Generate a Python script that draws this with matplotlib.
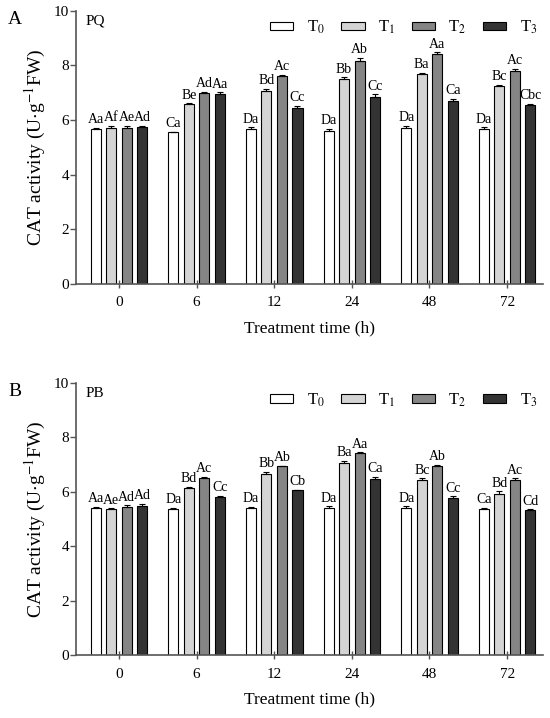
import matplotlib
matplotlib.use("Agg")
import matplotlib.pyplot as plt
import numpy as np

# ---------------------------------------------------------------
# data
times = ['0', '6', '12', '24', '48', '72']
series = ['T$_0$', 'T$_1$', 'T$_2$', 'T$_3$']

pq_mean = [[5.68, 5.55, 5.68, 5.61, 5.70, 5.68],
           [5.70, 6.57, 7.07, 7.52, 7.68, 7.26],
           [5.71, 7.00, 7.62, 8.17, 8.43, 7.80],
           [5.76, 6.96, 6.45, 6.86, 6.71, 6.56]]
pq_err = [[0.03, 0.03, 0.05, 0.07, 0.08, 0.06],
          [0.08, 0.04, 0.07, 0.05, 0.04, 0.04],
          [0.07, 0.04, 0.03, 0.10, 0.05, 0.08],
          [0.04, 0.06, 0.07, 0.08, 0.07, 0.04]]
pq_labels = [['Aa', 'Ca', 'Da', 'Da', 'Da', 'Da'],
             ['Af', 'Be', 'Bd', 'Bb', 'Ba', 'Bc'],
             ['Ae', 'Ad', 'Ac', 'Ab', 'Aa', 'Ac'],
             ['Ad', 'Aa', 'Cc', 'Cc', 'Ca', 'Cbc']]

pb_mean = [[5.41, 5.37, 5.39, 5.41, 5.39, 5.35],
           [5.36, 6.13, 6.65, 7.05, 6.42, 5.93],
           [5.45, 6.52, 6.93, 7.42, 6.93, 6.43],
           [5.48, 5.80, 6.05, 6.46, 5.78, 5.33]]
pb_err = [[0.03, 0.05, 0.05, 0.05, 0.08, 0.05],
          [0.03, 0.05, 0.08, 0.08, 0.07, 0.09],
          [0.05, 0.03, 0.03, 0.03, 0.05, 0.06],
          [0.07, 0.06, 0.03, 0.09, 0.05, 0.03]]
pb_labels = [['Aa', 'Da', 'Da', 'Da', 'Da', 'Ca'],
             ['Ae', 'Bd', 'Bb', 'Ba', 'Bc', 'Bd'],
             ['Ad', 'Ac', 'Ab', 'Aa', 'Ab', 'Ac'],
             ['Ad', 'Cc', 'Cb', 'Ca', 'Cc', 'Cd']]

colors = ['white', '#d4d4d4', '#858585', '#333333']

#-------------------------------------------------------------------------------------------------

plt.rcParams['font.family'] = ['Liberation Serif', 'DejaVu Serif']
plt.rcParams['mathtext.fontset'] = 'stix'

fig = plt.figure(figsize=(5.5, 7.18), dpi=100)
ax1 = fig.add_axes([0.138, 0.6045, 0.849, 0.3805])
ax2 = fig.add_axes([0.138, 0.0877, 0.849, 0.379])


def draw_panel(ax, means, errs, labels, tag, panel):
    x = np.arange(len(times))
    for j in range(len(series)):
        pos = x + (j - 1.5) * 0.2
        ax.bar(pos, means[j], width=0.13, color=colors[j], edgecolor='black',
               linewidth=0.8, label=series[j], zorder=2)
        ax.errorbar(pos, means[j], yerr=[np.zeros(len(times)), errs[j]],
                    fmt='none', ecolor='black', elinewidth=0.8, capsize=2.5,
                    capthick=0.8, zorder=3)
        for k in range(len(times)):
            ax.text(pos[k], means[j][k] + errs[j][k] + 0.06, labels[j][k],
                    ha='center', va='bottom', fontsize=10)

    ax.set_xlim(-0.554, 5.46)
    ax.set_ylim(0, 10)
    ax.set_xticks(x)
    ax.set_xticklabels(times, fontsize=11)
    ax.set_yticks([0, 2, 4, 6, 8, 10])
    ax.set_yticklabels(['0', '2', '4', '6', '8', '10'], fontsize=11)
    ax.spines['top'].set_visible(False)
    ax.spines['right'].set_visible(False)
    for s in ['left', 'bottom']:
        ax.spines[s].set_color('#555555')
        ax.spines[s].set_linewidth(1.2)
    ax.tick_params(axis='x', direction='inout', length=6, width=1, color='#555555', pad=6)
    ax.tick_params(axis='y', direction='out', length=4, width=1, color='#555555', pad=1)

    ax.set_xlabel('Treatment time (h)', fontsize=12.5, labelpad=8)
    ax.set_ylabel('CAT activity (U$\\cdot$g$^{-1}$FW)', fontsize=14, labelpad=4)

    ax.text(0.02, 0.985, tag, transform=ax.transAxes, fontsize=11, va='top')
    ax.text(-0.145, 1.0, panel, transform=ax.transAxes, fontsize=14, va='top')

    ax.legend(loc='upper right', bbox_to_anchor=(1.02, 1.025), ncol=4, frameon=False,
              fontsize=12, handlelength=1.4, handleheight=0.45, columnspacing=1.0,
              handletextpad=0.8)


draw_panel(ax1, pq_mean, pq_err, pq_labels, 'PQ', 'A')
draw_panel(ax2, pb_mean, pb_err, pb_labels, 'PB', 'B')

fig.savefig('out.png', dpi=100)
